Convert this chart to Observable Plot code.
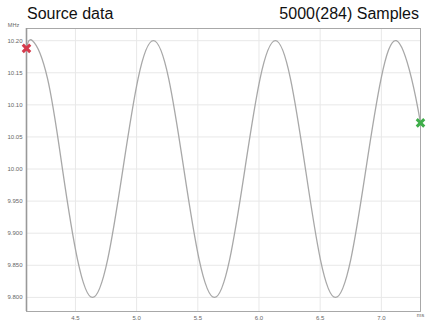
<!DOCTYPE html>
<html>
<head>
<meta charset="utf-8">
<script src="https://cdn.jsdelivr.net/npm/d3@7"></script>
<script src="https://cdn.jsdelivr.net/npm/@observablehq/plot@0.6"></script>
<style>
  html, body { margin: 0; padding: 0; background: #fff; }
  #wrap { position: relative; width: 426px; height: 322px; font-family: Arial, "Liberation Sans", sans-serif; }
  .hdr { position: absolute; top: 4px; font-size: 16px; color: #111; line-height: 20px; white-space: nowrap; }
  #title { left: 27px; }
  #count { right: 7px; }
  svg { display: block; }
</style>
</head>
<body>
<div id="wrap">
  <div id="chart"></div>
  <div class="hdr" id="title">Source data</div>
  <div class="hdr" id="count">5000(284) Samples</div>
</div>
<script>
// Sampled signal: time (ms) and frequency (MHz)
const timeMs = [4.10, 4.149, 4.272, 4.394, 4.517, 4.639, 4.763, 4.888, 5.012, 5.137,
  5.262, 5.386, 5.511, 5.636, 5.760, 5.885, 6.009, 6.134, 6.257, 6.380,
  6.502, 6.625, 6.750, 6.874, 6.998, 7.123, 7.247, 7.32];
const freqMHz = [10.188, 10.20, 10.141, 10.00, 9.859, 9.80, 9.859, 10.00, 10.141, 10.20,
  10.141, 10.00, 9.859, 9.80, 9.859, 10.00, 10.141, 10.20, 10.141, 10.00,
  9.859, 9.80, 9.859, 10.00, 10.141, 10.20, 10.141, 10.072];

// Cursor markers at the first and last sample
const markerTime = [4.10, 7.32];
const markerFreq = [10.188, 10.072];
const markerColor = ["#d43a4c", "#3fae4a"];

// Axis ticks
const xTicks = [4.5, 5.0, 5.5, 6.0, 6.5, 7.0];
const yTicks = [9.80, 9.85, 9.90, 9.95, 10.00, 10.05, 10.10, 10.15, 10.20];

const series = timeMs.map((t, i) => ({t, f: freqMHz[i]}));
const markers = markerTime.map((t, i) => ({t, f: markerFreq[i], c: markerColor[i]}));

const chart = Plot.plot({
  width: 426,
  height: 322,
  marginLeft: 26,
  marginRight: 6,
  marginTop: 28,
  marginBottom: 11,
  style: {fontFamily: "Arial, 'Liberation Sans', sans-serif", background: "#fff"},
  x: {domain: [4.10, 7.32]},
  y: {domain: [9.778, 10.219]},
  marks: [
    Plot.gridX(xTicks, {stroke: "#e8e8e8", strokeOpacity: 1}),
    Plot.gridY(yTicks, {stroke: "#e8e8e8", strokeOpacity: 1}),
    Plot.axisX(xTicks, {tickSize: 0, tickPadding: 4, fontSize: 6, fill: "#666",
      tickFormat: d => d.toFixed(1), label: null}),
    Plot.axisY(yTicks, {tickSize: 0, tickPadding: 4, fontSize: 6, fill: "#666",
      tickFormat: d => d >= 10 ? d.toFixed(2) : d.toFixed(3), label: null}),
    Plot.text(["MHz"], {frameAnchor: "top-left", dx: -13, dy: -5, fontSize: 5.5, fill: "#666", textAnchor: "middle"}),
    Plot.text(["ms"], {frameAnchor: "bottom-right", dx: 0, dy: 5, fontSize: 5.5, fill: "#666", textAnchor: "middle"}),
    Plot.frame({stroke: "#a8a8a8", strokeWidth: 1}),
    Plot.ruleX([4.10], {stroke: "#999", strokeWidth: 1.6}),
    Plot.line(series, {x: "t", y: "f", curve: "natural", stroke: "#a8a8a8", strokeWidth: 1.3}),
    Plot.dot(markers, {x: "t", y: "f", symbol: "times", r: 3.5, stroke: "c", strokeWidth: 3})
  ]
});
document.getElementById("chart").appendChild(chart);
</script>
</body>
</html>
